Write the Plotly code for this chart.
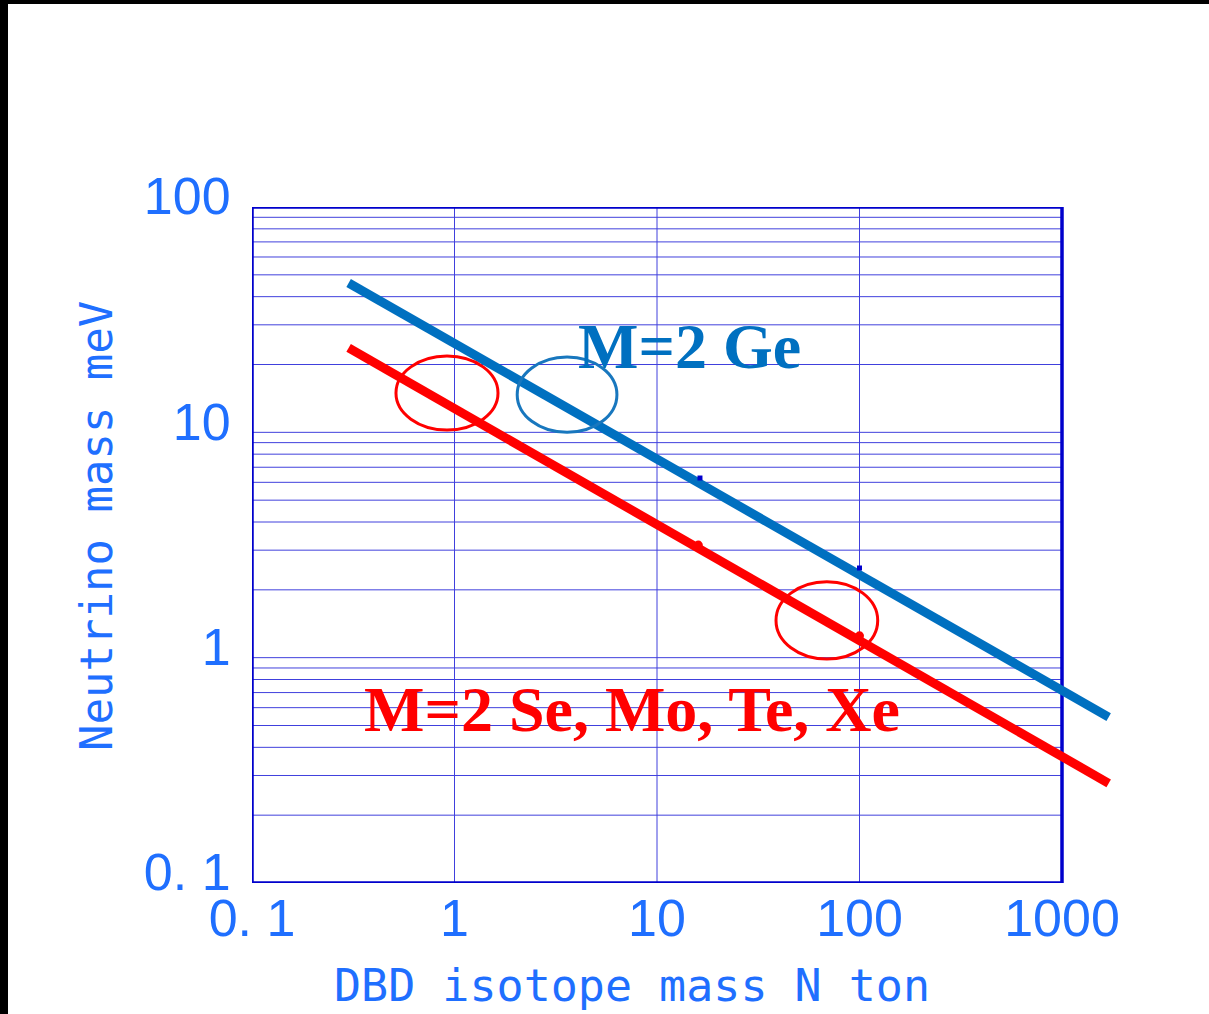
import math
import plotly.graph_objects as go

# ---------------- data ----------------
ge_x = [0.3, 1700]
ge_y = [46, 0.545]
se_x = [0.3, 1700]
se_y = [23.7, 0.277]

ge_pts_x = [16.3, 100]
ge_pts_y = [6.27, 2.5]
se_pts_x = [16, 100]
se_pts_y = [3.16, 1.25]

x_tickvals = [0.1, 1, 10, 100, 1000]
x_ticktext = ["0. 1", "1", "10", "100", "1000"]
y_tickvals = [0.1, 1, 10, 100]
y_ticktext = ["0. 1", "1", "10", "100"]

# ellipses (x0, x1, y0, y1) in data units
ellipses = [
    (0.514, 1.64, 10.24, 21.8, "#FF0000"),
    (2.04, 6.34, 10.0, 21.6, "#1877BE"),
    (38.7, 123, 0.986, 2.17, "#FF0000"),
]

labels = [
    ("M=2 Ge", 14.4, 24.0, "#0070C0"),
    ("M=2 Se, Mo, Te, Xe", 7.5, 0.59, "#FF0000"),
]

# ---------------- layout geometry ----------------
W, H = 1209, 1014
L, R, T, B = 252, 1150, 207, 883
PX_PER_DEC_X = 202.5
x_lo = -1
x_hi = x_lo + (R - L) / PX_PER_DEC_X
y_lo, y_hi = -1, 2

def px_x(p):
    return (p - L) / (R - L)

def px_y(p):
    return (B - p) / (B - T)

TICK_BLUE = "#1F6FFF"
FRAME = "#0000CC"
GRID = "#4040DD"

fig = go.Figure()

fig.add_trace(go.Scatter(x=ge_x, y=ge_y, mode="lines",
                         line=dict(color="#0070C0", width=9), showlegend=False))
fig.add_trace(go.Scatter(x=se_x, y=se_y, mode="lines",
                         line=dict(color="#FF0000", width=9), showlegend=False))
fig.add_trace(go.Scatter(x=ge_pts_x, y=ge_pts_y, mode="markers",
                         marker=dict(symbol="square", size=5, color="#0000CC"),
                         showlegend=False))
fig.add_trace(go.Scatter(x=se_pts_x, y=se_pts_y, mode="markers",
                         marker=dict(symbol="circle", size=9, color="#FF0000"),
                         showlegend=False))

shapes = []
# horizontal grid lines
for k in range(-1, 2):
    for m in range(1, 10):
        v = m * 10 ** k
        if v <= 0.1 or v >= 100:
            continue
        shapes.append(dict(type="line", xref="x", yref="y", x0=0.1, x1=1000,
                           y0=v, y1=v, line=dict(color=GRID, width=1), layer="below"))
# vertical grid lines
for v in [1, 10, 100]:
    shapes.append(dict(type="line", xref="x", yref="y", x0=v, x1=v,
                       y0=0.1, y1=100, line=dict(color=GRID, width=1), layer="below"))
# frame
shapes.append(dict(type="rect", xref="x", yref="y", x0=0.1, x1=1000, y0=0.1, y1=100,
                   line=dict(color=FRAME, width=3.5), layer="below"))
# ellipses
for x0, x1, y0, y1, c in ellipses:
    shapes.append(dict(type="circle", xref="x", yref="y", x0=x0, x1=x1, y0=y0, y1=y1,
                       line=dict(color=c, width=3)))
# black border at top and left of the picture
shapes.append(dict(type="rect", xref="paper", yref="paper",
                   x0=px_x(0), x1=px_x(W), y0=px_y(4), y1=px_y(0),
                   fillcolor="black", line=dict(width=0)))
shapes.append(dict(type="rect", xref="paper", yref="paper",
                   x0=px_x(0), x1=px_x(8), y0=px_y(H), y1=px_y(0),
                   fillcolor="black", line=dict(width=0)))

annotations = []
for txt, xv, yv, c in labels:
    annotations.append(dict(text="<b>" + txt + "</b>", x=math.log10(xv), y=math.log10(yv),
                            xref="x", yref="y", showarrow=False,
                            xanchor="center", yanchor="middle",
                            font=dict(family="Liberation Serif, Times New Roman, serif",
                                      size=64, color=c)))
annotations.append(dict(text="DBD isotope mass N ton", x=px_x(632), y=px_y(985),
                        xref="paper", yref="paper", showarrow=False,
                        xanchor="center", yanchor="middle",
                        font=dict(family="DejaVu Sans Mono, monospace", size=45,
                                  color=TICK_BLUE)))
annotations.append(dict(text="Neutrino mass meV", x=px_x(96), y=px_y(526),
                        xref="paper", yref="paper", showarrow=False, textangle=-90,
                        xanchor="center", yanchor="middle",
                        font=dict(family="DejaVu Sans Mono, monospace", size=44,
                                  color=TICK_BLUE)))

tickfont = dict(family="Liberation Sans Narrow, Arial Narrow, Liberation Sans, sans-serif",
                size=52, color=TICK_BLUE)

fig.update_layout(
    width=W, height=H,
    margin=dict(l=L, r=W - R, t=T, b=H - B, pad=0),
    paper_bgcolor="white", plot_bgcolor="white",
    shapes=shapes, annotations=annotations,
    xaxis=dict(type="log", range=[x_lo, x_hi], showgrid=False, zeroline=False,
               showline=False, tickvals=x_tickvals, ticktext=x_ticktext,
               ticks="", ticklabelstandoff=0,
               tickfont=tickfont, automargin=False),
    yaxis=dict(type="log", range=[y_lo, y_hi], showgrid=False, zeroline=False,
               showline=False, tickvals=y_tickvals, ticktext=y_ticktext,
               ticks="outside", ticklen=10, tickcolor="rgba(0,0,0,0)",
               tickfont=tickfont, ticklabelshift=-11, automargin=False),
)

fig.write_html("out.html", config={"displayModeBar": False},
               post_script="document.body.style.margin='0';")
